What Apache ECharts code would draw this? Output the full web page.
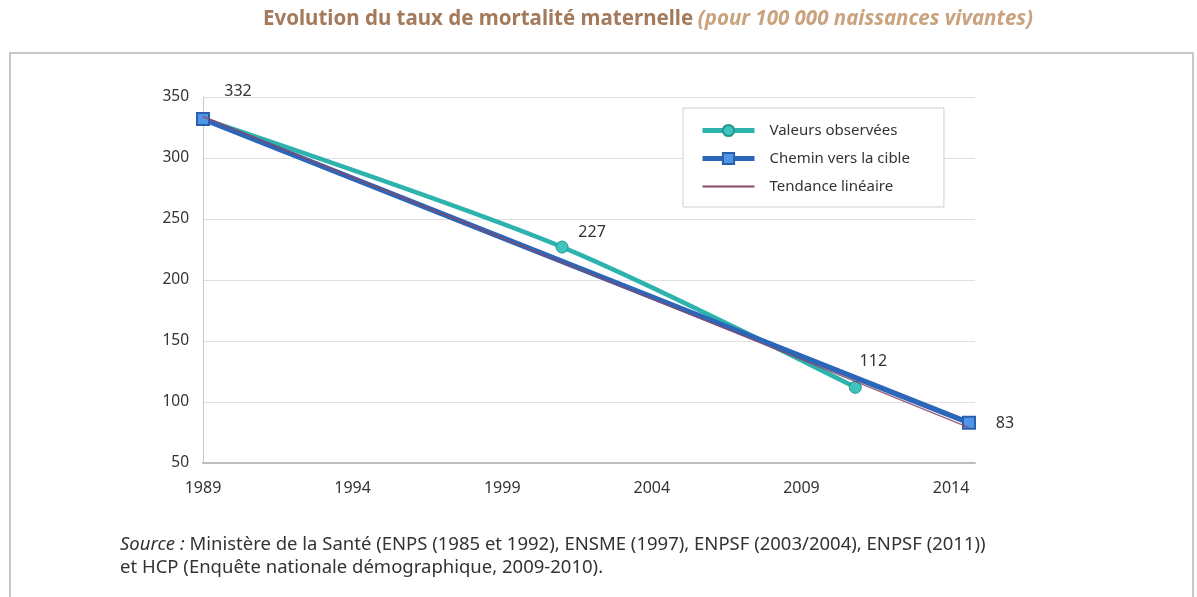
<!DOCTYPE html>
<html>
<head>
<meta charset="utf-8">
<script src="https://cdn.jsdelivr.net/npm/echarts@6/dist/echarts.min.js"></script>
<style>
  html, body { margin: 0; padding: 0; background: #fff; }
  #chart { width: 1197px; height: 597px; }
</style>
</head>
<body>
<div id="chart"></div>
<script>
// years and values
var observedYears = [1989, 2001, 2010.8];
var observedValues = [332, 227, 112];
var targetYears = [1989, 2014.6];
var targetValues = [332, 83];
var trendYears = [1989, 2014.6];
var trendValues = [334, 79];
var seriesNames = ['Valeurs observées', 'Chemin vers la cible', 'Tendance linéaire'];

function pairs(xs, ys) {
    return xs.map(function (x, i) { return [x, ys[i]]; });
}

var chart = echarts.init(document.getElementById('chart'));

chart.setOption({
    animation: false,
    textStyle: { fontFamily: 'Noto Sans' },
    title: {
        text: '{b|Evolution du taux de mortalité maternelle} {i|(pour 100 000 naissances vivantes)}',
        left: 258,
        top: 4,
        textStyle: {
            rich: {
                b: { fontSize: 20.5, fontWeight: 'bold', color: '#a47a5c', fontFamily: 'Noto Sans' },
                i: { fontSize: 20.5, fontStyle: 'italic', color: '#c9a27e', fontFamily: 'Noto Sans' }
            }
        }
    },
    graphic: [
        {
            type: 'rect',
            shape: { x: 10, y: 53, width: 1183, height: 560 },
            style: { fill: 'none', stroke: '#c8c8c8', lineWidth: 2 },
            silent: true
        },
        {
            type: 'text',
            left: 120,
            top: 533,
            style: {
                text: '{i|Source :} Ministère de la Santé (ENPS (1985 et 1992), ENSME (1997), ENPSF (2003/2004), ENPSF (2011))\net HCP (Enquête nationale démographique, 2009-2010).',
                fontSize: 18.5,
                lineHeight: 23,
                fill: '#333',
                fontFamily: 'Noto Sans',
                rich: {
                    i: { fontStyle: 'italic', fontSize: 18.5, fill: '#333', fontFamily: 'Noto Sans' }
                }
            }
        }
    ],
    legend: {
        orient: 'vertical',
        left: 683,
        top: 108,
        width: 262,
        padding: [15, 34, 13, 17],
        itemGap: 13,
        itemWidth: 52,
        itemHeight: 14,
        backgroundColor: '#fff',
        borderColor: '#cfcfcf',
        borderWidth: 1,
        textStyle: { fontSize: 15, color: '#333', padding: [0, 0, 0, 10] },
        data: [
            { name: seriesNames[0], lineStyle: { width: 5, color: '#2cb3ad' } },
            { name: seriesNames[1], lineStyle: { width: 5, color: '#2c66b8' } },
            {
                name: seriesNames[2],
                icon: 'path://M0,0 L52,0 L52,2 L0,2 Z',
                itemStyle: { color: '#8a4766' }
            }
        ]
    },
    grid: { left: 203, right: 222, top: 97, bottom: 134 },
    xAxis: {
        type: 'value',
        min: 1989,
        max: 2014.8,
        interval: 5,
        axisLine: { show: true, lineStyle: { color: '#bdbdbd', width: 2 } },
        axisTick: { show: false },
        splitLine: { show: false },
        axisLabel: {
            showMaxLabel: false,
            fontSize: 16,
            color: '#333',
            margin: 17,
            formatter: function (v) { return String(v); }
        }
    },
    yAxis: {
        type: 'value',
        min: 50,
        max: 350,
        interval: 50,
        axisLine: { show: true, lineStyle: { color: '#c8c8c8', width: 1 } },
        axisTick: { show: false },
        splitLine: { lineStyle: { color: '#e0e0e0', width: 1 } },
        axisLabel: { fontSize: 15.5, color: '#333', margin: 14 }
    },
    series: [
        {
            name: seriesNames[0],
            type: 'line',
            data: pairs(observedYears, observedValues),
            smooth: 0.3,
            symbol: 'circle',
            symbolSize: 12,
            z: 5,
            lineStyle: { color: '#2cb3ad', width: 4.5 },
            itemStyle: { color: '#3cc4bd', borderColor: '#23958f', borderWidth: 1 },
            label: {
                show: true,
                fontSize: 16,
                color: '#333',
                formatter: function (p) { return p.dataIndex === 0 ? '' : p.value[1]; }
            },
            labelLayout: function (params) {
                if (params.dataIndex === 1) {
                    return { dx: 30, dy: 5 };
                }
                return { dx: 18, dy: -6 };
            }
        },
        {
            name: seriesNames[1],
            type: 'line',
            data: pairs(targetYears, targetValues),
            symbol: 'rect',
            symbolSize: 12,
            z: 6,
            lineStyle: { color: '#2c66b8', width: 5.5 },
            itemStyle: { color: '#4f95e8', borderColor: '#2a5fad', borderWidth: 2 },
            label: {
                show: true,
                fontSize: 16,
                color: '#333',
                formatter: function (p) { return p.value[1]; }
            },
            labelLayout: function (params) {
                if (params.dataIndex === 0) {
                    return { dx: 35, dy: -8 };
                }
                return { dx: 36, dy: 21 };
            }
        },
        {
            name: seriesNames[2],
            type: 'line',
            data: pairs(trendYears, trendValues),
            showSymbol: false,
            symbol: 'none',
            z: 7,
            lineStyle: { color: '#8a4766', width: 1.5, opacity: 0.85 },
            itemStyle: { color: '#8a4766' }
        }
    ]
});
</script>
</body>
</html>
